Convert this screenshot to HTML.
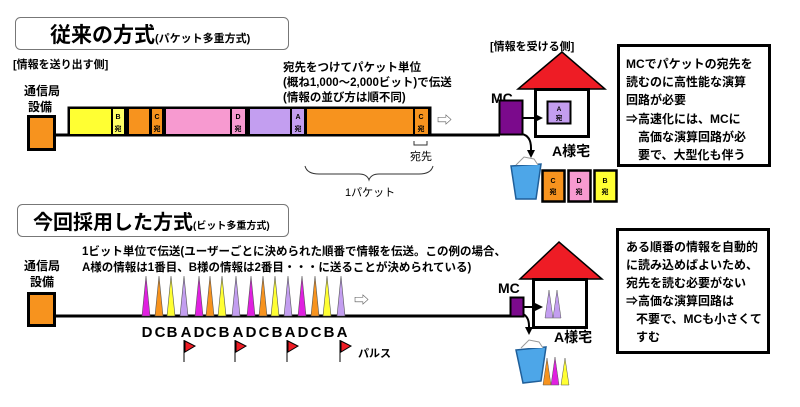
<!DOCTYPE html>
<html><head><meta charset="utf-8"><style>
html,body{margin:0;padding:0;background:#fff;}
svg{display:block;font-family:"Liberation Sans","Noto Sans CJK JP",sans-serif;}
.b{font-weight:bold;}
</style></head><body>
<svg width="800" height="407" viewBox="0 0 800 407" xmlns="http://www.w3.org/2000/svg">
<defs>
<marker id="ah" markerWidth="8" markerHeight="8" refX="6" refY="4" orient="auto" markerUnits="userSpaceOnUse"><path d="M0,0 L8,4 L0,8 z" fill="#000"/></marker>
</defs>
<!-- ===== TOP ===== -->
<rect x="15.5" y="17.5" width="273" height="32" rx="5" fill="#fff" stroke="#777" stroke-width="1"/>
<text x="50" y="42" font-size="21" class="b">従来の方式<tspan font-size="11">(パケット多重方式)</tspan></text>
<text x="13" y="68" font-size="11" class="b">[情報を送り出す側]</text>
<text x="24" y="95" font-size="12" class="b">通信局</text>
<text x="28" y="111" font-size="12" class="b">設備</text>
<rect x="28.5" y="116.5" width="26" height="33" fill="#f7931e" stroke="#000" stroke-width="3"/>
<line x1="54" y1="135" x2="500" y2="135" stroke="#000" stroke-width="3"/>
<rect x="67.5" y="106.5" width="364" height="30" fill="#000"/>
<rect x="70" y="109" width="41" height="25" fill="#ffff33"/>
<rect x="113" y="109" width="11" height="25" fill="#ffff66"/>
<rect x="129" y="109" width="20" height="25" fill="#f7931e"/>
<rect x="152" y="109" width="10" height="25" fill="#f7931e"/>
<rect x="166" y="109" width="64" height="25" fill="#f79ad0"/>
<rect x="232" y="109" width="13" height="25" fill="#f79ad0"/>
<rect x="250" y="109" width="40" height="25" fill="#c39ef0"/>
<rect x="292" y="109" width="12" height="25" fill="#c39ef0"/>
<rect x="307" y="109" width="106" height="25" fill="#f7931e"/>
<rect x="415" y="109" width="13" height="25" fill="#f7931e"/>
<g font-size="7" class="b" text-anchor="middle">
<text x="118" y="119">B</text><text x="118" y="131">宛</text>
<text x="157" y="119">C</text><text x="157" y="131">宛</text>
<text x="238" y="119">D</text><text x="238" y="131">宛</text>
<text x="298" y="119">A</text><text x="298" y="131">宛</text>
<text x="421" y="119">C</text><text x="421" y="131">宛</text>
</g>
<text x="283" y="71" font-size="11.5" class="b">宛先をつけてパケット単位</text>
<text x="283" y="86" font-size="11.5" class="b">(概ね1,000～2,000ビット)で伝送</text>
<text x="283" y="101" font-size="11.5" class="b">(情報の並び方は順不同)</text>
<text x="437" y="125" font-size="15" fill="#555">⇨</text>
<path d="M414,141 v4 h13 v-4" fill="none" stroke="#333" stroke-width="1"/>
<text x="410" y="160" font-size="11">宛先</text>
<path d="M305,166 q2,8 14,8 h40 q8,0 10,6 q2,-6 10,-6 h40 q12,0 14,-8" fill="none" stroke="#333" stroke-width="1"/>
<text x="345" y="196" font-size="11">1パケット</text>
<!-- receiver -->
<text x="490" y="50" font-size="11" class="b">[情報を受ける側]</text>
<polygon points="562,52 518,89 605,89" fill="#ee1c25" stroke="#000" stroke-width="1.5"/>
<rect x="535.5" y="89.5" width="53" height="47" fill="#fff" stroke="#000" stroke-width="3"/>
<rect x="547.5" y="101.5" width="23" height="22" fill="#c39ef0" stroke="#000" stroke-width="2"/>
<text x="559" y="111" font-size="6.5" class="b" text-anchor="middle">A</text>
<text x="559" y="120" font-size="6.5" class="b" text-anchor="middle">宛</text>
<text x="552" y="156" font-size="14" class="b">A様宅</text>
<text x="491" y="103" font-size="14" class="b">MC</text>
<rect x="499.5" y="100.5" width="23" height="34" fill="#7b0a8c" stroke="#000" stroke-width="2"/>
<line x1="523" y1="118" x2="541" y2="118" stroke="#000" stroke-width="2" marker-end="url(#ah)"/>
<path d="M522,134 q9,2 9,14 v8" fill="none" stroke="#000" stroke-width="2" marker-end="url(#ah)"/>
<path d="M511,166 l30,-2 l-5,35 l-20,0 z" fill="#4da6e8" stroke="#1f5f9a" stroke-width="1.5"/>
<path d="M516,165 l8,-8 l10,2 l4,6" fill="#fff" stroke="#999" stroke-width="1"/>
<rect x="542.5" y="170.5" width="22" height="31" fill="#f7931e" stroke="#000" stroke-width="2.5"/>
<rect x="568.5" y="170.5" width="22" height="31" fill="#f79ad0" stroke="#000" stroke-width="2.5"/>
<rect x="594.5" y="170.5" width="22" height="31" fill="#ffff33" stroke="#000" stroke-width="2.5"/>
<g font-size="7" class="b" text-anchor="middle">
<text x="553" y="183">C</text><text x="553" y="194">宛</text>
<text x="579" y="183">D</text><text x="579" y="194">宛</text>
<text x="605" y="183">B</text><text x="605" y="194">宛</text>
</g>
<rect x="618.5" y="45.5" width="151" height="120" fill="#fff" stroke="#000" stroke-width="3"/>
<g font-size="12" class="b">
<text x="626" y="68">MCでパケットの宛先を</text>
<text x="626" y="86">読むのに高性能な演算</text>
<text x="626" y="104">回路が必要</text>
<text x="626" y="123">⇒高速化には、MCに</text>
<text x="638" y="141">高価な演算回路が必</text>
<text x="638" y="159">要で、大型化も伴う</text>
</g>
<!-- ===== BOTTOM ===== -->
<rect x="17.5" y="204.5" width="271" height="32" rx="5" fill="#fff" stroke="#777" stroke-width="1"/>
<text x="33" y="229" font-size="20" class="b">今回採用した方式<tspan font-size="10">(ビット多重方式)</tspan></text>
<text x="82" y="255" font-size="11.5" class="b">1ビット単位で伝送(ユーザーごとに決められた順番で情報を伝送。この例の場合、</text>
<text x="82" y="271" font-size="11.5" class="b">A様の情報は1番目、B様の情報は2番目・・・に送ることが決められている)</text>
<text x="24" y="270" font-size="12" class="b">通信局</text>
<text x="30" y="286" font-size="12" class="b">設備</text>
<rect x="28.5" y="293.5" width="26" height="32" fill="#f7931e" stroke="#000" stroke-width="3"/>
<line x1="54" y1="316" x2="512" y2="316" stroke="#000" stroke-width="3"/>
<g stroke="#555" stroke-width="0.6">
<polygon points="142,316 146,276 150,316" fill="#e020e0"/>
<polygon points="155,316 159,276 163,316" fill="#f7931e"/>
<polygon points="167,316 171,276 175,316" fill="#ffff33"/>
<polygon points="180,316 184,276 188,316" fill="#c39ef0"/>
<polygon points="195,316 199,276 203,316" fill="#e020e0"/>
<polygon points="206,316 210,276 214,316" fill="#f7931e"/>
<polygon points="218,316 222,276 226,316" fill="#ffff33"/>
<polygon points="232,316 236,276 240,316" fill="#c39ef0"/>
<polygon points="247,316 251,276 255,316" fill="#e020e0"/>
<polygon points="259,316 263,276 267,316" fill="#f7931e"/>
<polygon points="271,316 275,276 279,316" fill="#ffff33"/>
<polygon points="284,316 288,276 292,316" fill="#c39ef0"/>
<polygon points="298,316 302,276 306,316" fill="#e020e0"/>
<polygon points="311,316 315,276 319,316" fill="#f7931e"/>
<polygon points="323,316 327,276 331,316" fill="#ffff33"/>
<polygon points="337,316 341,276 345,316" fill="#c39ef0"/>
</g>
<g font-size="15" class="b" text-anchor="middle">
<text x="147" y="337">D</text><text x="160" y="337">C</text><text x="172" y="337">B</text><text x="186" y="337">A</text>
<text x="199" y="337">D</text><text x="211" y="337">C</text><text x="224" y="337">B</text><text x="238" y="337">A</text>
<text x="251" y="337">D</text><text x="264" y="337">C</text><text x="277" y="337">B</text><text x="290" y="337">A</text>
<text x="303" y="337">D</text><text x="316" y="337">C</text><text x="329" y="337">B</text><text x="342" y="337">A</text>
</g>
<text x="354" y="305" font-size="15" fill="#555">⇨</text>
<g stroke="#000" stroke-width="1">
<line x1="184" y1="340" x2="184" y2="362"/><polygon points="185,341 195,346 185,352" fill="#ee1c25"/>
<line x1="235" y1="340" x2="235" y2="362"/><polygon points="236,341 246,346 236,352" fill="#ee1c25"/>
<line x1="287" y1="340" x2="287" y2="362"/><polygon points="288,341 298,346 288,352" fill="#ee1c25"/>
<line x1="340" y1="340" x2="340" y2="362"/><polygon points="341,341 351,346 341,352" fill="#ee1c25"/>
</g>
<text x="358" y="357" font-size="11" class="b">パルス</text>
<polygon points="559,242 520,279 602,279" fill="#ee1c25" stroke="#000" stroke-width="1.5"/>
<rect x="533.5" y="279.5" width="53" height="48" fill="#fff" stroke="#000" stroke-width="3"/>
<polygon points="545,318 549,290 553,318" fill="#c39ef0" stroke="#555" stroke-width="0.5"/>
<polygon points="553,318 557,290 561,318" fill="#c39ef0" stroke="#555" stroke-width="0.5"/>
<text x="554" y="342" font-size="14" class="b">A様宅</text>
<text x="498" y="293" font-size="14" class="b">MC</text>
<rect x="510.5" y="297.5" width="13" height="19" fill="#7b0a8c" stroke="#000" stroke-width="2"/>
<line x1="524" y1="307" x2="541" y2="307" stroke="#000" stroke-width="2" marker-end="url(#ah)"/>
<path d="M523,314 q6,3 6,12 v7" fill="none" stroke="#000" stroke-width="2" marker-end="url(#ah)"/>
<path d="M516,350 l30,-3 l-5,34 l-18,2 z" fill="#4da6e8" stroke="#1f5f9a" stroke-width="1.5"/>
<path d="M521,348 l8,-8 l10,2 l4,6" fill="#fff" stroke="#999" stroke-width="1"/>
<polygon points="543,385 547,358 551,385" fill="#f7931e" stroke="#555" stroke-width="0.5"/>
<polygon points="551,385 555,357 559,385" fill="#e020e0" stroke="#555" stroke-width="0.5"/>
<polygon points="561,385 565,358 569,385" fill="#ffff33" stroke="#555" stroke-width="0.5"/>
<rect x="617.5" y="229.5" width="151" height="123" fill="#fff" stroke="#000" stroke-width="3"/>
<g font-size="12" class="b">
<text x="626" y="251">ある順番の情報を自動的</text>
<text x="626" y="269">に読み込めばよいため、</text>
<text x="626" y="287">宛先を読む必要がない</text>
<text x="626" y="305">⇒高価な演算回路は</text>
<text x="636" y="323">不要で、MCも小さくて</text>
<text x="636" y="341">すむ</text>
</g>
</svg>
</body></html>
